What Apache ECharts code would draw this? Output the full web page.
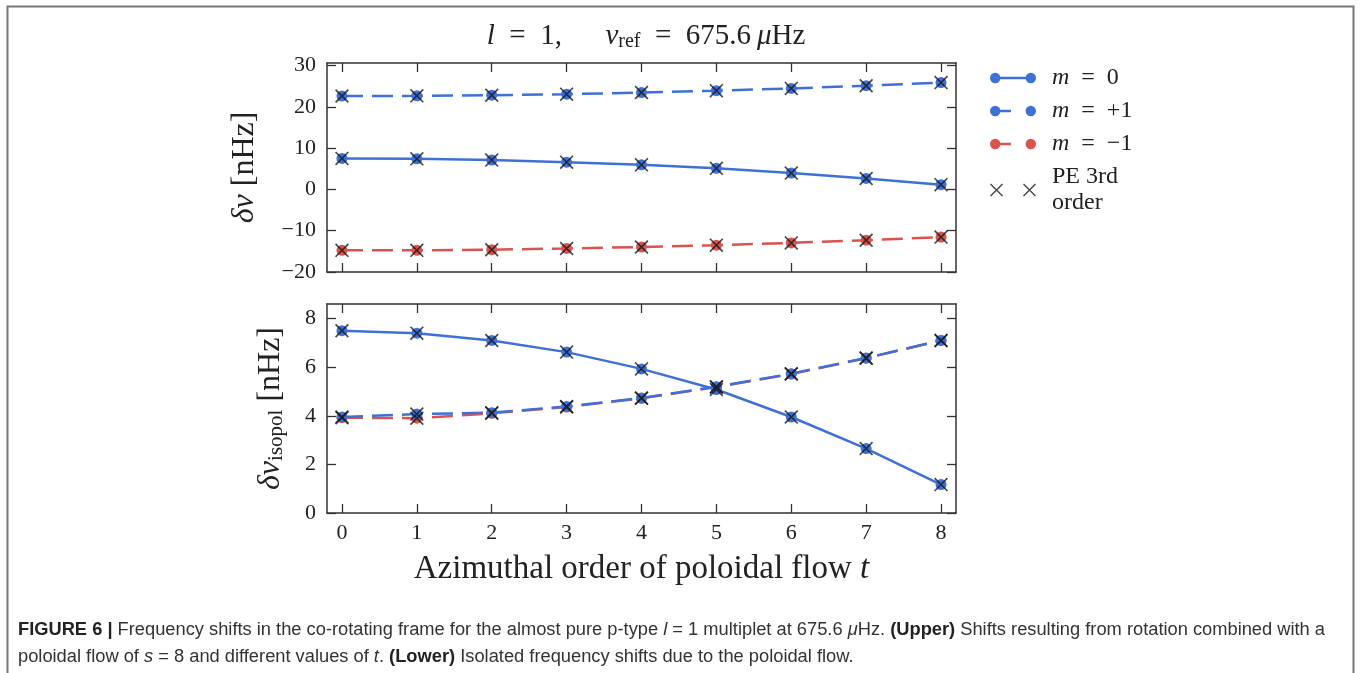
<!DOCTYPE html>
<html>
<head>
<meta charset="utf-8">
<script src="https://cdn.jsdelivr.net/npm/echarts@6/dist/echarts.min.js"></script>
<style>
    html, body { margin: 0; padding: 0; background: #fff; }
    #chart { width: 1360px; height: 673px; }
</style>
</head>
<body>
<div id="chart"></div>
<script>
    // azimuthal order t
    const tValues = [0, 1, 2, 3, 4, 5, 6, 7, 8]

    // upper panel: delta nu [nHz]
    const upperM0 = [7.5, 7.4, 7.1, 6.6, 5.95, 5.1, 3.95, 2.65, 1.15]
    const upperMp1 = [22.6, 22.65, 22.8, 23.05, 23.45, 23.9, 24.45, 25.1, 25.85]
    const upperMm1 = [-14.75, -14.75, -14.6, -14.3, -13.95, -13.5, -12.95, -12.3, -11.55]

    // lower panel: delta nu isopol [nHz]
    const lowerM0 = [7.5, 7.4, 7.1, 6.62, 5.93, 5.08, 3.95, 2.65, 1.17]
    const lowerMp1 = [3.95, 4.07, 4.13, 4.38, 4.73, 5.2, 5.73, 6.38, 7.1]
    const lowerMm1 = [3.92, 3.9, 4.1, 4.36, 4.72, 5.18, 5.72, 6.37, 7.1]

    // PE 3rd order (crosses)
    const peUpper = [upperM0, upperMp1, upperMm1]
    const peLower = [lowerM0, lowerMp1, lowerMm1]

    // tick labels
    const xTicks = [0, 1, 2, 3, 4, 5, 6, 7, 8]
    const yUpperTicks = [-20, -10, 0, 10, 20, 30]
    const yLowerTicks = [0, 2, 4, 6, 8]

    const BLUE = '#3f70d6'
    const RED = '#d9534f'
    const INK = '#222'
    const SERIF = '"Liberation Serif", "DejaVu Serif", serif'
    const SANS = '"Liberation Sans", Arial, sans-serif'

    const CROSS = 'path://M0,1.7L1.7,0L20,18.3L18.3,20ZM18.3,0L20,1.7L1.7,20L0,18.3Z'
    const ICON_SOLID = 'path://M0,5a5,5 0 1,1 10,0a5,5 0 1,1 -10,0ZM5,3.8H39V6.2H5ZM34,5a5,5 0 1,1 10,0a5,5 0 1,1 -10,0Z'
    const ICON_DASH = 'path://M0,5a5,5 0 1,1 10,0a5,5 0 1,1 -10,0ZM5,3.8H20V6.2H5ZM34,5a5,5 0 1,1 10,0a5,5 0 1,1 -10,0Z'
    const ICON_CROSS = 'path://M0,1L1,0L13,12L12,13ZM12,0L13,1L1,13L0,12Z' +
        'M33,1L34,0L46,12L45,13ZM45,0L46,1L34,13L33,12Z'

    const NAMES = ['m = 0', 'm = +1', 'm = \u22121', 'PE 3rd order']
    const EN = '\u2002'

    let pairs = arr => tValues.map((t, i) => [t, arr[i]])
    let minus = v => v < 0 ? '\u2212' + Math.abs(v) : String(v)

    let chart = echarts.init(document.getElementById('chart'))

    function frameAxes(gridIndex, yTicks, yMin, yMax, showXLabel) {
        let tick = {show: true, inside: true, length: 9, lineStyle: {color: '#333', width: 1.3}}
        let line = {show: true, onZero: false, lineStyle: {color: '#333', width: 1.5}}
        let label = {
            show: true, color: INK, fontFamily: SERIF, fontSize: 22, margin: 11,
            formatter: minus
        }
        let xs = [
            {
                type: 'value', gridIndex, min: -0.2, max: 8.2, position: 'bottom',
                axisLine: line,
                axisTick: Object.assign({customValues: xTicks}, tick),
                axisLabel: Object.assign({customValues: xTicks}, label, {show: showXLabel, margin: 9}),
                splitLine: {show: false}
            },
            {
                type: 'value', gridIndex, min: -0.2, max: 8.2, position: 'top',
                axisLine: line,
                axisTick: Object.assign({customValues: xTicks}, tick),
                axisLabel: {show: false},
                splitLine: {show: false}
            }
        ]
        let ys = [
            {
                type: 'value', gridIndex, min: yMin, max: yMax, position: 'left',
                axisLine: line,
                axisTick: Object.assign({customValues: yTicks}, tick),
                axisLabel: Object.assign({customValues: yTicks}, label),
                splitLine: {show: false}
            },
            {
                type: 'value', gridIndex, min: yMin, max: yMax, position: 'right',
                axisLine: line,
                axisTick: Object.assign({customValues: yTicks}, tick),
                axisLabel: {show: false},
                splitLine: {show: false}
            }
        ]
        return {xs, ys}
    }

    let upperAxes = frameAxes(0, yUpperTicks, -20, 30.6, false)
    let lowerAxes = frameAxes(1, yLowerTicks, 0, 8.6, true)

    upperAxes.ys[0].name = '{i|\u03b4\u03bd} [nHz]'
    lowerAxes.ys[0].name = '{i|\u03b4\u03bd}{sub|isopol} [nHz]'
    lowerAxes.xs[0].name = 'Azimuthal order of poloidal flow {i|t}'

    let nameStyle = size => ({
        color: INK, fontFamily: SERIF, fontSize: size,
        rich: {
            i: {fontStyle: 'italic', fontFamily: SERIF, fontSize: size, color: INK},
            sub: {fontFamily: SERIF, fontSize: 21, color: INK, verticalAlign: 'bottom', padding: [12, 0, 0, 0]}
        }
    })
    ;[upperAxes.ys[0], lowerAxes.ys[0]].forEach((ax, k) => {
        ax.nameLocation = 'middle'
        ax.nameRotate = 90
        ax.nameGap = k === 0 ? 66 : 40
        ax.nameTextStyle = nameStyle(32)
    })
    lowerAxes.xs[0].nameLocation = 'middle'
    lowerAxes.xs[0].nameGap = 40
    lowerAxes.xs[0].nameTextStyle = nameStyle(33)

    function lineSeries(name, data, axisIdx, color, dashed, z) {
        return {
            name, type: 'line', data: pairs(data),
            xAxisIndex: axisIdx, yAxisIndex: axisIdx,
            symbol: 'circle', symbolSize: 11,
            itemStyle: {color, borderWidth: 0},
            lineStyle: {color, width: 2.5, type: dashed ? [21, 9] : 'solid'},
            z, animation: false
        }
    }

    function crossSeries(groups, axisIdx) {
        let data = []
        groups.forEach(g => data.push(...pairs(g)))
        return {
            name: NAMES[3], type: 'scatter', data,
            xAxisIndex: axisIdx, yAxisIndex: axisIdx,
            symbol: CROSS, symbolSize: 14,
            itemStyle: {color: '#1a1a1a'},
            z: 5, animation: false
        }
    }

    let option = {
        backgroundColor: '#fff',
        animation: false,
        title: [
            {
                text: '{i|l}' + EN + '=' + EN + '1,\u2003\u2002{i|\u03bd}{sub|ref}' + EN + '=' + EN + '675.6\u2009{i|\u03bc}Hz',
                left: 641, top: 15, textAlign: 'center',
                textStyle: {
                    color: INK, fontFamily: SERIF, fontSize: 29, fontWeight: 'normal',
                    rich: {
                        i: {fontStyle: 'italic', fontFamily: SERIF, fontSize: 29, color: INK},
                        sub: {fontFamily: SERIF, fontSize: 20, color: INK, padding: [12, 0, 0, 0]}
                    }
                }
            },
            {
                text: '{b|FIGURE 6 |} Frequency shifts in the co-rotating frame for the almost pure p-type {i|l} = 1 multiplet at 675.6 {i|\u03bc}Hz. {b|(Upper)} Shifts resulting from rotation combined with a\n' +
                    'poloidal flow of {i|s} = 8 and different values of {i|t}. {b|(Lower)} Isolated frequency shifts due to the poloidal flow.',
                left: 13, top: 611,
                textStyle: {
                    color: '#333', fontFamily: SANS, fontSize: 18.3, fontWeight: 'normal', lineHeight: 27,
                    rich: {
                        b: {fontWeight: 'bold', fontFamily: SANS, fontSize: 18.3, color: '#222', lineHeight: 27},
                        i: {fontStyle: 'italic', fontFamily: SANS, fontSize: 18.3, color: '#333', lineHeight: 27}
                    }
                }
            }
        ],
        legend: {
            orient: 'vertical', left: 985, top: 60,
            itemWidth: 46, itemHeight: 13, itemGap: 7,
            data: [
                {name: NAMES[0], icon: ICON_SOLID},
                {name: NAMES[1], icon: ICON_DASH},
                {name: NAMES[2], icon: ICON_DASH},
                {name: NAMES[3], icon: ICON_CROSS}
            ],
            formatter(name) {
                if (name === NAMES[3]) return '{g|}PE 3rd\n{g|}order'
                return '{g|}{i|m}' + name.slice(1).split(' ').join(EN)
            },
            textStyle: {
                color: INK, fontFamily: SERIF, fontSize: 24, lineHeight: 26,
                rich: {
                    g: {width: 11},
                    i: {fontStyle: 'italic', fontFamily: SERIF, fontSize: 24, color: INK}
                }
            }
        },
        graphic: [{
            type: 'rect', silent: true,
            shape: {x: 7.5, y: 6.5, width: 1346, height: 700},
            style: {fill: 'none', stroke: '#777', lineWidth: 2}
        }],
        grid: [
            {left: 327, top: 63, width: 629, height: 209},
            {left: 327, top: 304, width: 629, height: 209}
        ],
        xAxis: [...upperAxes.xs, ...lowerAxes.xs],
        yAxis: [...upperAxes.ys, ...lowerAxes.ys],
        series: [
            lineSeries(NAMES[0], upperM0, 0, BLUE, false, 3),
            lineSeries(NAMES[1], upperMp1, 0, BLUE, true, 3),
            lineSeries(NAMES[2], upperMm1, 0, RED, true, 2),
            crossSeries(peUpper, 0),
            lineSeries(NAMES[0], lowerM0, 2, BLUE, false, 3),
            lineSeries(NAMES[1], lowerMp1, 2, BLUE, true, 3),
            lineSeries(NAMES[2], lowerMm1, 2, RED, true, 2),
            crossSeries(peLower, 2)
        ]
    }

    chart.setOption(option)
</script>
</body>
</html>
